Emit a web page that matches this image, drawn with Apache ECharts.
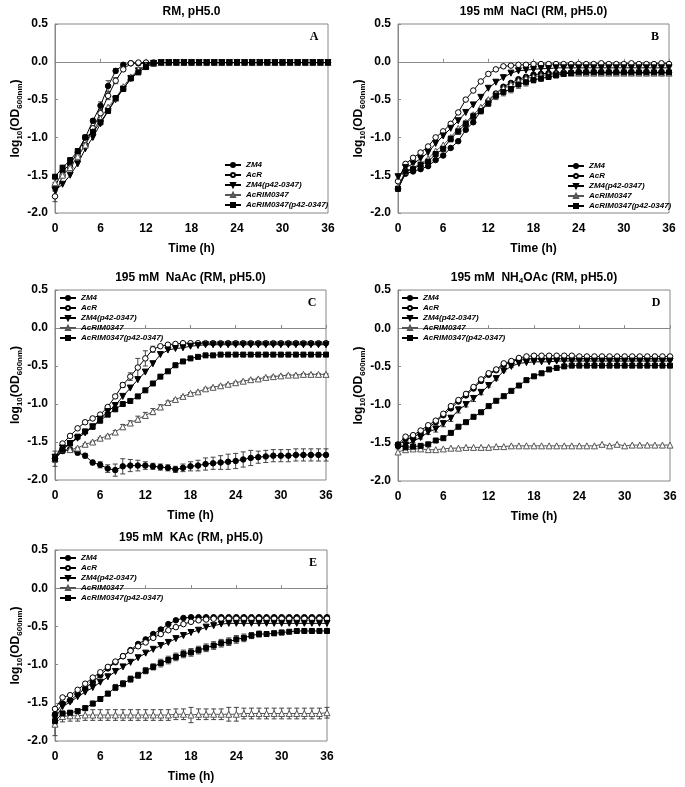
<!DOCTYPE html>
<html><head><meta charset="utf-8">
<script src="https://cdn.jsdelivr.net/npm/echarts@6/dist/echarts.min.js"></script>
<style>html,body{margin:0;padding:0;background:#fff}#c{width:685px;height:787px}</style>
</head><body><div id="c"></div>
<script>
// ---------- data ----------
const hours = [0,1,2,3,4,5,6,7,8,9,10,11,12,13,14,15,16,17,18,19,20,21,22,23,24,25,26,27,28,29,30,31,32,33,34,35,36];
const seriesNames = ['ZM4','AcR','ZM4(p42-0347)','AcRIM0347','AcRIM0347(p42-0347)'];
const panelTitles = ['RM, pH5.0','195 mM  NaCl (RM, pH5.0)','195 mM  NaAc (RM, pH5.0)','195 mM  NH{s|4}OAc (RM, pH5.0)','195 mM  KAc (RM, pH5.0)'];
const panelLetters = ['A','B','C','D','E'];
const xTicks = [0,6,12,18,24,30,36];

// Panel A: RM, pH5.0
const A_ZM4 = [-1.65,-1.45,-1.35,-1.20,-1.00,-0.78,-0.58,-0.32,-0.12,-0.04,-0.02,-0.02,
  -0.02,-0.02,-0.01,-0.01,-0.01,-0.01,-0.01,-0.01,-0.01,-0.01,-0.01,-0.01,
  -0.01,-0.01,-0.01,-0.01,-0.01,-0.01,-0.01,-0.01,-0.01,-0.01,-0.01,-0.01,-0.01];
const A_AcR = [-1.78,-1.50,-1.40,-1.25,-1.10,-0.88,-0.68,-0.45,-0.25,-0.10,-0.02,-0.01,
  -0.01,-0.01,-0.01,-0.01,-0.01,-0.01,-0.01,-0.01,-0.01,-0.01,-0.01,-0.01,
  -0.01,-0.01,-0.01,-0.01,-0.01,-0.01,-0.01,-0.01,-0.01,-0.01,-0.01,-0.01,-0.01];
const A_ZM4p = [-1.70,-1.62,-1.50,-1.35,-1.15,-1.00,-0.82,-0.65,-0.50,-0.36,-0.22,-0.12,
  -0.05,-0.02,-0.01,-0.01,-0.01,-0.01,-0.01,-0.01,-0.01,-0.01,-0.01,-0.01,
  -0.01,-0.01,-0.01,-0.01,-0.01,-0.01,-0.01,-0.01,-0.01,-0.01,-0.01,-0.01,-0.01];
const A_AcRIM = [-1.60,-1.50,-1.40,-1.25,-1.10,-0.92,-0.75,-0.60,-0.48,-0.33,-0.20,-0.10,
  -0.05,-0.02,-0.01,-0.01,-0.01,-0.01,-0.01,-0.01,-0.01,-0.01,-0.01,-0.01,
  -0.01,-0.01,-0.01,-0.01,-0.01,-0.01,-0.01,-0.01,-0.01,-0.01,-0.01,-0.01,-0.01];
const A_AcRIMp = [-1.52,-1.40,-1.30,-1.18,-1.00,-0.93,-0.80,-0.65,-0.48,-0.36,-0.22,-0.14,
  -0.07,-0.02,-0.01,-0.01,-0.01,-0.01,-0.01,-0.01,-0.01,-0.01,-0.01,-0.01,
  -0.01,-0.01,-0.01,-0.01,-0.01,-0.01,-0.01,-0.01,-0.01,-0.01,-0.01,-0.01,-0.01];
const A_ZM4_err = [0.05,0.03,0.02,0.02,0.02,0.03,0.05,0.07,0.03,0,0,0,
  0,0,0,0,0,0,0,0,0,0,0,0, 0,0,0,0,0,0,0,0,0,0,0,0,0];
const A_AcR_err = [0.07,0.03,0.02,0.02,0.02,0.03,0.03,0.05,0.04,0.02,0,0,
  0,0,0,0,0,0,0,0,0,0,0,0, 0,0,0,0,0,0,0,0,0,0,0,0,0];

// Panel B: 195 mM NaCl
const B_ZM4 = [-1.68,-1.48,-1.45,-1.42,-1.38,-1.30,-1.24,-1.14,-1.05,-0.90,-0.80,-0.65,
  -0.52,-0.42,-0.33,-0.28,-0.23,-0.20,-0.17,-0.16,-0.15,-0.15,-0.14,-0.14,
  -0.14,-0.14,-0.14,-0.14,-0.14,-0.14,-0.14,-0.14,-0.14,-0.14,-0.14,-0.14,-0.14];
const B_AcR = [-1.58,-1.35,-1.27,-1.20,-1.12,-1.00,-0.92,-0.82,-0.67,-0.50,-0.38,-0.26,
  -0.16,-0.10,-0.06,-0.05,-0.04,-0.04,-0.03,-0.03,-0.03,-0.03,-0.03,-0.03,
  -0.03,-0.03,-0.03,-0.02,-0.03,-0.03,-0.03,-0.02,-0.03,-0.03,-0.03,-0.02,-0.03];
const B_ZM4p = [-1.52,-1.40,-1.35,-1.28,-1.20,-1.08,-0.98,-0.88,-0.78,-0.67,-0.57,-0.47,
  -0.35,-0.27,-0.21,-0.15,-0.12,-0.11,-0.10,-0.09,-0.09,-0.08,-0.08,-0.08,
  -0.08,-0.08,-0.08,-0.08,-0.08,-0.08,-0.08,-0.08,-0.08,-0.08,-0.08,-0.08,-0.08];
const B_AcRIM = [-1.65,-1.45,-1.40,-1.35,-1.28,-1.18,-1.10,-1.00,-0.88,-0.80,-0.70,-0.60,
  -0.50,-0.42,-0.35,-0.30,-0.25,-0.22,-0.20,-0.18,-0.17,-0.16,-0.15,-0.15,
  -0.15,-0.15,-0.15,-0.15,-0.15,-0.15,-0.15,-0.15,-0.15,-0.15,-0.15,-0.15,-0.15];
const B_AcRIMp = [-1.68,-1.45,-1.42,-1.36,-1.32,-1.22,-1.15,-1.02,-0.92,-0.82,-0.72,-0.65,
  -0.55,-0.45,-0.40,-0.36,-0.30,-0.27,-0.24,-0.22,-0.20,-0.18,-0.16,-0.15,
  -0.14,-0.14,-0.14,-0.14,-0.14,-0.14,-0.14,-0.14,-0.14,-0.14,-0.14,-0.14,-0.14];
const B_AcRIMp_err = [0.03,0,0,0,0.02,0.03,0.04,0.04,0.04,0.04,0.04,0.04,
  0.04,0.05,0.05,0.05,0.05,0.05,0.04,0.04,0.03,0.03,0.02,0.02,
  0,0,0,0,0,0,0,0,0,0,0,0,0];

// Panel C: 195 mM NaAc
const C_ZM4 = [-1.72,-1.62,-1.60,-1.64,-1.68,-1.77,-1.80,-1.85,-1.87,-1.82,-1.81,-1.81,
  -1.81,-1.82,-1.83,-1.84,-1.86,-1.84,-1.82,-1.81,-1.79,-1.78,-1.77,-1.76,
  -1.75,-1.73,-1.71,-1.70,-1.69,-1.68,-1.68,-1.68,-1.67,-1.67,-1.67,-1.67,-1.67];
const C_AcR = [-1.72,-1.52,-1.42,-1.32,-1.24,-1.19,-1.14,-1.04,-0.90,-0.75,-0.64,-0.52,
  -0.40,-0.28,-0.24,-0.22,-0.21,-0.20,-0.20,-0.20,-0.20,-0.20,-0.20,-0.20,
  -0.20,-0.20,-0.20,-0.20,-0.20,-0.20,-0.20,-0.20,-0.20,-0.20,-0.20,-0.20,-0.20];
const C_ZM4p = [-1.70,-1.58,-1.52,-1.45,-1.38,-1.30,-1.20,-1.10,-1.02,-0.90,-0.79,-0.68,
  -0.58,-0.47,-0.35,-0.29,-0.27,-0.26,-0.24,-0.23,-0.22,-0.22,-0.22,-0.22,
  -0.22,-0.22,-0.22,-0.22,-0.22,-0.22,-0.22,-0.22,-0.22,-0.22,-0.22,-0.22,-0.22];
const C_AcRIM = [-1.72,-1.60,-1.60,-1.58,-1.53,-1.50,-1.45,-1.42,-1.37,-1.30,-1.25,-1.20,
  -1.15,-1.10,-1.04,-0.98,-0.94,-0.90,-0.86,-0.84,-0.80,-0.78,-0.76,-0.74,
  -0.72,-0.70,-0.68,-0.67,-0.65,-0.64,-0.63,-0.62,-0.62,-0.61,-0.61,-0.61,-0.61];
const C_AcRIMp = [-1.72,-1.60,-1.52,-1.43,-1.36,-1.30,-1.22,-1.14,-1.07,-1.00,-0.96,-0.90,
  -0.82,-0.73,-0.64,-0.57,-0.49,-0.44,-0.40,-0.38,-0.36,-0.36,-0.35,-0.35,
  -0.35,-0.35,-0.35,-0.35,-0.35,-0.35,-0.35,-0.35,-0.35,-0.35,-0.35,-0.35,-0.35];
const C_ZM4_err = [0.10,0.03,0.03,0.03,0.03,0.03,0.04,0.05,0.08,0.10,0.08,0.07,
  0.05,0.04,0.04,0.04,0.04,0.05,0.06,0.07,0.08,0.08,0.09,0.10,
  0.10,0.10,0.10,0.08,0.08,0.08,0.08,0.08,0.08,0.08,0.08,0.08,0.08];
const C_AcR_err = [0,0,0,0,0,0,0,0,0.02,0.03,0.05,0.12,
  0.10,0.04,0,0,0,0,0,0,0,0,0,0, 0,0,0,0,0,0,0,0,0,0,0,0,0];
const C_AcRIM_err = [0.05,0.01,0.01,0.01,0.01,0.01,0.01,0.01,0.02,0.03,0.03,0.04,
  0.04,0.04,0.03,0.02,0.01,0.01,0.01,0.01,0.01,0.01,0.01,0.01,
  0.01,0.01,0.01,0.01,0.01,0.01,0.01,0.01,0.01,0.01,0.01,0.01,0.01];

// Panel D: 195 mM NH4OAc
const D_ZM4 = [-1.54,-1.45,-1.43,-1.37,-1.30,-1.23,-1.14,-1.05,-0.96,-0.88,-0.79,-0.69,
  -0.61,-0.55,-0.48,-0.44,-0.41,-0.40,-0.40,-0.40,-0.40,-0.40,-0.40,-0.40,
  -0.40,-0.40,-0.40,-0.40,-0.40,-0.40,-0.40,-0.40,-0.40,-0.40,-0.40,-0.40,-0.40];
const D_AcR = [-1.52,-1.42,-1.40,-1.34,-1.27,-1.21,-1.12,-1.02,-0.94,-0.86,-0.77,-0.67,
  -0.59,-0.54,-0.46,-0.43,-0.39,-0.37,-0.36,-0.36,-0.36,-0.36,-0.36,-0.36,
  -0.37,-0.37,-0.37,-0.37,-0.37,-0.37,-0.37,-0.37,-0.37,-0.37,-0.37,-0.37,-0.37];
const D_ZM4p = [-1.56,-1.53,-1.48,-1.43,-1.36,-1.32,-1.25,-1.18,-1.07,-1.00,-0.92,-0.84,
  -0.75,-0.66,-0.56,-0.50,-0.46,-0.45,-0.44,-0.44,-0.44,-0.43,-0.43,-0.43,
  -0.43,-0.43,-0.43,-0.43,-0.43,-0.43,-0.43,-0.43,-0.43,-0.43,-0.43,-0.43,-0.43];
const D_AcRIM = [-1.62,-1.59,-1.58,-1.58,-1.59,-1.59,-1.58,-1.57,-1.57,-1.56,-1.56,-1.56,
  -1.56,-1.55,-1.55,-1.54,-1.54,-1.54,-1.54,-1.54,-1.54,-1.54,-1.54,-1.54,
  -1.54,-1.54,-1.54,-1.52,-1.54,-1.52,-1.54,-1.53,-1.53,-1.53,-1.53,-1.53,-1.53];
const D_AcRIMp = [-1.53,-1.56,-1.55,-1.54,-1.52,-1.47,-1.44,-1.37,-1.29,-1.23,-1.16,-1.10,
  -1.02,-0.95,-0.89,-0.82,-0.75,-0.68,-0.63,-0.59,-0.54,-0.52,-0.50,-0.49,
  -0.49,-0.49,-0.49,-0.49,-0.49,-0.49,-0.49,-0.49,-0.49,-0.49,-0.49,-0.49,-0.49];
const D_ZM4p_err = [0.02,0.02,0.02,0.02,0.03,0.04,0.04,0.04,0.04,0.03,0.04,0.03,
  0.02,0.02,0.01,0.01,0,0,0,0,0,0,0,0, 0,0,0,0,0,0,0,0,0,0,0,0,0];

// Panel E: 195 mM KAc
const E_ZM4 = [-1.65,-1.51,-1.47,-1.39,-1.31,-1.23,-1.14,-1.05,-0.97,-0.89,-0.81,-0.73,
  -0.67,-0.60,-0.54,-0.47,-0.42,-0.39,-0.38,-0.38,-0.38,-0.38,-0.38,-0.38,
  -0.38,-0.38,-0.38,-0.38,-0.38,-0.38,-0.38,-0.38,-0.38,-0.38,-0.38,-0.38,-0.38];
const E_AcR = [-1.58,-1.43,-1.40,-1.33,-1.25,-1.17,-1.10,-1.03,-0.96,-0.89,-0.82,-0.76,
  -0.71,-0.65,-0.60,-0.55,-0.51,-0.47,-0.44,-0.42,-0.41,-0.40,-0.40,-0.40,
  -0.40,-0.40,-0.40,-0.40,-0.40,-0.40,-0.40,-0.40,-0.40,-0.40,-0.40,-0.40,-0.40];
const E_ZM4p = [-1.70,-1.55,-1.49,-1.42,-1.36,-1.30,-1.23,-1.16,-1.09,-1.03,-0.97,-0.91,
  -0.85,-0.80,-0.75,-0.71,-0.66,-0.62,-0.58,-0.55,-0.51,-0.49,-0.47,-0.46,
  -0.46,-0.46,-0.46,-0.46,-0.46,-0.46,-0.46,-0.46,-0.46,-0.46,-0.46,-0.46,-0.46];
const E_AcRIM = [-1.78,-1.68,-1.67,-1.67,-1.66,-1.66,-1.66,-1.66,-1.66,-1.66,-1.66,-1.66,
  -1.66,-1.66,-1.66,-1.66,-1.65,-1.65,-1.66,-1.65,-1.65,-1.65,-1.65,-1.65,
  -1.65,-1.64,-1.64,-1.64,-1.64,-1.64,-1.64,-1.64,-1.64,-1.64,-1.64,-1.64,-1.63];
const E_AcRIMp = [-1.74,-1.64,-1.63,-1.61,-1.57,-1.51,-1.45,-1.38,-1.30,-1.25,-1.19,-1.14,
  -1.08,-1.03,-0.98,-0.94,-0.90,-0.86,-0.84,-0.81,-0.78,-0.75,-0.72,-0.70,
  -0.67,-0.65,-0.62,-0.60,-0.60,-0.59,-0.58,-0.57,-0.56,-0.56,-0.56,-0.56,-0.56];
const E_AcRIM_err = [0.15,0.07,0.07,0.07,0.07,0.07,0.07,0.07,0.07,0.07,0.07,0.07,
  0.07,0.07,0.07,0.07,0.07,0.07,0.10,0.07,0.07,0.07,0.07,0.09,
  0.09,0.07,0.07,0.07,0.07,0.07,0.07,0.07,0.07,0.07,0.07,0.07,0.07];
const E_AcRIMp_err = [0.05,0.02,0.02,0.03,0.03,0.03,0.03,0.03,0.04,0.04,0.04,0.04,
  0.04,0.04,0.05,0.05,0.05,0.05,0.05,0.05,0.05,0.05,0.05,0.05,
  0.05,0.05,0.04,0.04,0.03,0.03,0.03,0.02,0.02,0.02,0.02,0.02,0.02];

// ---------- layout / styling ----------
const FONT = '"Liberation Sans", Arial, sans-serif';
const SERIF = '"Liberation Serif", "Times New Roman", serif';
const panels = [
  {grid:{left:55, top:24, width:273, height:189}, legend:{left:224, top:161},
   data:[A_ZM4,A_AcR,A_ZM4p,A_AcRIM,A_AcRIMp], err:[A_ZM4_err,A_AcR_err,null,null,null]},
  {grid:{left:398, top:24, width:271, height:189}, legend:{left:567, top:162},
   data:[B_ZM4,B_AcR,B_ZM4p,B_AcRIM,B_AcRIMp], err:[null,null,null,null,B_AcRIMp_err]},
  {grid:{left:55, top:290, width:271, height:190}, legend:{left:59, top:294},
   data:[C_ZM4,C_AcR,C_ZM4p,C_AcRIM,C_AcRIMp], err:[C_ZM4_err,C_AcR_err,null,C_AcRIM_err,null]},
  {grid:{left:398, top:290, width:272, height:191}, legend:{left:401, top:294},
   data:[D_ZM4,D_AcR,D_ZM4p,D_AcRIM,D_AcRIMp], err:[null,null,D_ZM4p_err,null,null]},
  {grid:{left:55, top:550, width:272, height:191}, legend:{left:59, top:554},
   data:[E_ZM4,E_AcR,E_ZM4p,E_AcRIM,E_AcRIMp], err:[null,null,null,E_AcRIM_err,E_AcRIMp_err]}
];
const styles = [
  {symbol:'circle', size:5.5, rotate:0, fill:'#000', stroke:'#000', line:'#000'},
  {symbol:'circle', size:5.5, rotate:0, fill:'#fff', stroke:'#000', line:'#000'},
  {symbol:'triangle', size:6, rotate:180, fill:'#000', stroke:'#000', line:'#000'},
  {symbol:'triangle', size:6, rotate:0, fill:'#fff', stroke:'#555', line:'#555'},
  {symbol:'rect', size:5, rotate:0, fill:'#000', stroke:'#000', line:'#000'}
];

const grids = [], xAxes = [], yAxes = [], series = [], legends = [], graphics = [];
const axisColor = '#888';

panels.forEach((p, i) => {
  grids.push(Object.assign({show:true, borderColor:axisColor, borderWidth:1, backgroundColor:'transparent'}, p.grid));
  xAxes.push({
    type:'value', gridIndex:i, min:0, max:36, interval:6,
    axisLine:{show:true, lineStyle:{color:axisColor, width:1}},
    axisTick:{show:true, inside:true, length:3, lineStyle:{color:axisColor}},
    axisLabel:{color:'#000', fontWeight:'bold', fontSize:12, fontFamily:FONT, margin:10,
      formatter: v => xTicks.includes(v) ? String(v) : ''},
    splitLine:{show:false},
    name:'Time (h)', nameLocation:'middle', nameGap:30,
    nameTextStyle:{color:'#000', fontWeight:'bold', fontSize:12, fontFamily:FONT}
  });
  yAxes.push({
    type:'value', gridIndex:i, min:-2, max:0.5, interval:0.5,
    axisLine:{show:true, onZero:false, lineStyle:{color:axisColor, width:1}},
    axisTick:{show:true, inside:true, length:3, lineStyle:{color:axisColor}},
    axisLabel:{color:'#000', fontWeight:'bold', fontSize:12, fontFamily:FONT, margin:7,
      formatter: v => v.toFixed(1)},
    splitLine:{show:false},
    name:'log{s|10}(OD{s|600nm})', nameLocation:'middle', nameGap:31, nameRotate:90,
    nameTextStyle:{color:'#000', fontWeight:'bold', fontSize:12, fontFamily:FONT, lineHeight:16,
      rich:{s:{fontSize:8, fontWeight:'bold', fontFamily:FONT, color:'#000', lineHeight:9, verticalAlign:'bottom'}}}
  });
  p.data.forEach((arr, k) => {
    const st = styles[k];
    series.push({
      type:'line', name:seriesNames[k], xAxisIndex:i, yAxisIndex:i,
      data: hours.map((h, j) => [h, arr[j]]),
      symbol:st.symbol, symbolSize:st.size, symbolRotate:st.rotate, showSymbol:true, showAllSymbol:true,
      itemStyle:{color:st.fill, borderColor:st.stroke, borderWidth:1},
      lineStyle:{color:st.line, width:1},
      clip:false, z:3+k, animation:false
    });
    const e = p.err[k];
    if (e) {
      series.push({
        type:'custom', name:'err'+i+'_'+k, xAxisIndex:i, yAxisIndex:i,
        data: hours.map((h, j) => [h, arr[j], e[j]]),
        encode:{x:0, y:1}, z:2, animation:false, clip:false,
        renderItem:(params, api) => {
          const x = api.value(0), y = api.value(1), d = api.value(2);
          if (!d) return null;
          const a = api.coord([x, y + d]), b = api.coord([x, y - d]);
          const s = {stroke:'#444', lineWidth:1};
          return {type:'group', children:[
            {type:'line', shape:{x1:a[0], y1:a[1], x2:b[0], y2:b[1]}, style:s},
            {type:'line', shape:{x1:a[0]-2.5, y1:a[1], x2:a[0]+2.5, y2:a[1]}, style:s},
            {type:'line', shape:{x1:b[0]-2.5, y1:b[1], x2:b[0]+2.5, y2:b[1]}, style:s}
          ]};
        }
      });
    }
  });
  legends.push({
    orient:'vertical', left:p.legend.left, top:p.legend.top, padding:0,
    itemWidth:16, itemHeight:5, itemGap:2, selectedMode:false,
    data: seriesNames.slice(),
    textStyle:{fontSize:8, fontStyle:'italic', fontWeight:'bold', fontFamily:FONT, color:'#000', lineHeight:8}
  });
  const g = p.grid;
  graphics.push({
    type:'text', x:g.left + g.width/2, y:g.top - 12, z:10,
    style:{text:panelTitles[i], align:'center', verticalAlign:'middle',
      fontSize:12, fontWeight:'bold', fontFamily:FONT, fill:'#000', lineHeight:14,
      rich:{s:{fontSize:8, fontWeight:'bold', fontFamily:FONT, fill:'#000', lineHeight:8, verticalAlign:'bottom'}}}
  });
  graphics.push({
    type:'text', x:g.left + g.width - 14, y:g.top + 13, z:10,
    style:{text:panelLetters[i], align:'center', verticalAlign:'middle',
      fontSize:12, fontWeight:'bold', fontFamily:SERIF, fill:'#000'}
  });
});

const chart = echarts.init(document.getElementById('c'), null, {renderer:'canvas'});
chart.setOption({
  backgroundColor:'#fff', animation:false,
  grid:grids, xAxis:xAxes, yAxis:yAxes, series:series, legend:legends, graphic:graphics
});
</script>
</body></html>
